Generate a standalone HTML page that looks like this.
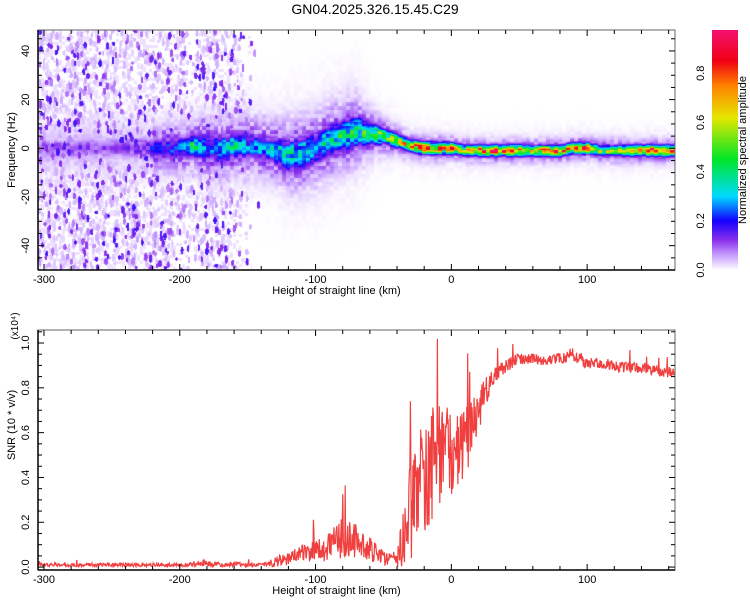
<!DOCTYPE html>
<html><head><meta charset="utf-8"><style>
body{margin:0;background:#fff;width:750px;height:600px;overflow:hidden;font-family:"Liberation Sans",sans-serif}
#wrap{position:relative;width:750px;height:600px}
canvas{position:absolute}
svg{position:absolute;left:0;top:0}
</style></head><body>
<div id="wrap">
<canvas id="hm" width="637" height="240" style="left:38px;top:30px"></canvas>
<canvas id="cb" width="26" height="240" style="left:712px;top:30px"></canvas>
<svg id="s" width="750" height="600"></svg>
</div>
<script>
// ---- data ----
const heights = [-300,-290,-280,-270,-260,-250,-240,-230,-220,-210,-200,-190,-180,-170,-160,-150,-140,-130,-120,-110,-100,-90,-80,-70,-60,-50,-40,-30,-20,-10,0,10,20,30,40,50,60,70,80,90,100,110,120,130,140,150,160,170];
const ridgeFreq = [0,0,0,0,0,0,0,0,0,0,0,1,0,0,1,1,0,-1,-3,-2,0,3,5,7,6,5,3,1,0,0,0,-1,-1,-1,-1,-1,-1,-1,-1,0,0,-1,-1,-1,-1,-1,-1,-1];
const ridgeAmp = [0.12,0.12,0.12,0.12,0.12,0.12,0.14,0.15,0.2,0.25,0.3,0.45,0.28,0.32,0.38,0.32,0.3,0.35,0.4,0.4,0.35,0.4,0.45,0.45,0.55,0.6,0.6,0.85,0.9,0.85,0.9,0.7,0.9,0.95,0.85,0.95,0.65,0.85,0.95,0.75,0.95,0.6,0.6,0.65,0.75,0.95,0.95,0.95];
const ridgeWidth = [4,4,4,4,4,4,4,4,4,4,4,4,5,5,5,5,5,5,6,6,6,6,6,6,4,3,2.5,2.2,2.2,2.2,2,2,2,2,2,2,2,2,2,2,2,2,2,2,2,2,2,2];
const speckle = [1,1,1,1,1,1,1,0.9,0.9,0.8,0.8,0.5,0.9,0.8,0.7,0.3,0,0,0,0,0,0,0,0,0,0,0,0,0,0,0,0,0,0,0,0,0,0,0,0,0,0,0,0,0,0,0,0];
const snrBase = [0.01,0.01,0.01,0.01,0.01,0.01,0.01,0.01,0.01,0.01,0.01,0.012,0.02,0.01,0.015,0.01,0.01,0.02,0.04,0.06,0.07,0.09,0.13,0.12,0.08,0.04,0.03,0.25,0.4,0.5,0.5,0.55,0.7,0.85,0.9,0.93,0.93,0.92,0.93,0.95,0.91,0.91,0.9,0.89,0.89,0.88,0.87,0.86];
const snrNoise = [0.01,0.01,0.01,0.01,0.01,0.01,0.01,0.01,0.01,0.01,0.01,0.015,0.02,0.01,0.015,0.01,0.01,0.03,0.04,0.05,0.06,0.08,0.12,0.1,0.07,0.04,0.05,0.3,0.35,0.3,0.25,0.2,0.12,0.06,0.04,0.03,0.03,0.03,0.03,0.04,0.03,0.03,0.03,0.03,0.03,0.03,0.03,0.03];
const xTicks = [-300,-200,-100,0,100];
const fTicks = [-40,-20,0,20,40];
const snrTicks = [0,0.2,0.4,0.6,0.8,1.0];
const cbTicks = [0,0.2,0.4,0.6,0.8];

// ---- scales ----
const X0=38,X1=675,XV0=-304.4,XV1=164.7;
const xs=v=>X0+(v-XV0)/(XV1-XV0)*(X1-X0);
const T0=30,T1=270,FV0=-50,FV1=48.6;
const ys=f=>T1-(f-FV0)/(FV1-FV0)*(T1-T0);
const B0=330,B1=570,SV0=-0.013,SV1=1.058;
const yb=v=>B1-(v-SV0)/(SV1-SV0)*(B1-B0);
const CB0=0,CB1=0.976;
function interp(arr,h){let i=(h-heights[0])/10;if(i<=0)return arr[0];if(i>=arr.length-1)return arr[arr.length-1];const k=Math.floor(i),t=i-k;return arr[k]*(1-t)+arr[k+1]*t;}
function hash(a,b){let n=(a*374761393+b*668265263)|0;n=(n^(n>>>13))*1274126177|0;n=n^(n>>>16);return ((n>>>0)%10000)/10000;}
const stops=[[0,[255,255,255]],[0.02,[236,222,255]],[0.06,[200,160,255]],[0.12,[140,50,235]],[0.2,[20,0,255]],[0.3,[0,220,255]],[0.45,[0,230,40]],[0.62,[230,230,0]],[0.75,[255,130,0]],[0.85,[240,0,20]],[1,[245,20,130]]];
function cmap(v){v=Math.max(0,Math.min(1,v));for(let i=1;i<stops.length;i++){if(v<=stops[i][0]){const a=stops[i-1],b=stops[i],t=(v-a[0])/(b[0]-a[0]);return [0,1,2].map(k=>Math.round(a[1][k]+(b[1][k]-a[1][k])*t));}}return stops[stops.length-1][1];}

// ---- heatmap ----
const W=637,H=240;
const buf=new Float32Array(W*H);
for(let px=0;px<W;px++){
  const h=XV0+(px+0.5)/W*(XV1-XV0);
  const fc=interp(ridgeFreq,h),am=interp(ridgeAmp,h),w=interp(ridgeWidth,h),sp=interp(speckle,h);
  const cx=Math.floor(px/4);
  for(let py=0;py<H;py++){
    const f=FV1-(py+0.5)/H*(FV1-FV0);
    const cy=Math.floor(py/4);
    const d=(f-fc)/w;
    let v=am*Math.exp(-d*d)*(0.55+0.6*hash(cx,cy));
    v=Math.max(v,Math.exp(-d*d/5)*(am>0.2?0.13:0.05)*(0.4+hash(cx+7,cy+3)));
    v=Math.max(v,Math.exp(-d*d/14)*0.035*hash(cx+2,Math.floor(py/6)+9));
    if(sp>0.2 && hash(Math.floor(px/3)+50,Math.floor(py/3))<0.4*sp) v=Math.max(v,0.018);
    buf[py*W+px]=v;
  }
}
// speckle blobs, randomly placed
for(let k=0;k<6000;k++){
  const bx=hash(k,1)*W, by=hash(k,2)*H;
  const h=XV0+bx/W*(XV1-XV0), sp=interp(speckle,h);
  if(hash(k,3)>sp) continue;
  const strong=hash(k,4)<0.3;
  const val=strong?0.06+0.11*hash(k,5):0.022+0.03*hash(k,6);
  const rx=1.1+hash(k,7)*1.0, ry=1.8+hash(k,8)*2.5;
  for(let x=Math.floor(bx-rx);x<=bx+rx;x++)for(let y=Math.floor(by-ry);y<=by+ry;y++){
    if(x<0||y<0||x>=W||y>=H)continue;
    const a=(x+0.5-bx)/rx,b=(y+0.5-by)/ry;
    if(a*a+b*b<=1){const i=y*W+x;if(buf[i]<val)buf[i]=val;}
  }
}
const hm=document.getElementById('hm'),ctx=hm.getContext('2d');
const img=ctx.createImageData(W,H);
for(let i=0;i<W*H;i++){const c=cmap(buf[i]);img.data[i*4]=c[0];img.data[i*4+1]=c[1];img.data[i*4+2]=c[2];img.data[i*4+3]=255;}
ctx.putImageData(img,0,0);
// colorbar
const cb=document.getElementById('cb'),c2=cb.getContext('2d');
for(let py=0;py<240;py++){const v=CB1-(py+0.5)/240*(CB1-CB0);const c=cmap(v);c2.fillStyle=`rgb(${c})`;c2.fillRect(0,py,26,1);}

// ---- svg ----
const S=document.getElementById('s'),NS='http://www.w3.org/2000/svg';
function el(t,a,txt){const e=document.createElementNS(NS,t);for(const k in a)e.setAttribute(k,a[k]);if(txt!==undefined)e.textContent=txt;S.appendChild(e);return e;}
function axes(top,bot,yfun,yt,ymin,ymax,minorStep,fmt,pre){
  let e=el('rect',{x:X0,y:top,width:X1-X0,height:bot-top,fill:'none',stroke:'#666','stroke-width':1});
  
  e=el('line',{x1:X0,y1:top,x2:X0,y2:bot,stroke:'#000','stroke-width':1.5});
  
  e=el('line',{x1:X0,y1:bot,x2:X1,y2:bot,stroke:'#000','stroke-width':1.5});
  
  for(let v=-300;v<=160;v+=20){const x=xs(v),L=(v%100===0)?6:4;
    el('line',{x1:x,y1:bot,x2:x,y2:bot-L,stroke:'#000'});el('line',{x1:x,y1:top,x2:x,y2:top+L,stroke:'#000'});}
  xTicks.forEach(v=>{const t=el('text',{x:xs(v),y:bot+13,'font-size':11,'text-anchor':'middle'},String(v));
    });
  for(let v=ymin;v<=ymax+1e-9;v+=minorStep){const y=yfun(v);const major=yt.some(t=>Math.abs(t-v)<1e-6);
    el('line',{x1:X0,y1:y,x2:X0+(major?6:4),y2:y,stroke:'#000'});el('line',{x1:X1,y1:y,x2:X1-(major?6:4),y2:y,stroke:'#000'});}
  yt.forEach(v=>{const y=yfun(v);const t=el('text',{x:0,y:0,'font-size':11,'text-anchor':'middle',transform:`translate(29,${y}) rotate(-90)`},fmt(v));
    });
  const t=el('text',{x:(X0+X1)/2-20,y:bot+24,'font-size':11,'text-anchor':'middle'},'Height of straight line (km)');
  
}
let t=el('text',{x:375,y:14,'font-size':14,'text-anchor':'middle'},'GN04.2025.326.15.45.C29');

axes(T0,T1,ys,fTicks,-50,45,5,v=>String(v),'spectrogram');
t=el('text',{x:0,y:0,'font-size':11,'text-anchor':'middle',transform:`translate(15,150) rotate(-90)`},'Frequency (Hz)');


// SNR line
const pts=[];
for(let i=0;i<=1300;i++){const h=XV0+i/1300*(XV1-XV0);const b=interp(snrBase,h),n=interp(snrNoise,h);
  const r=hash(i,77)-0.5, sp=hash(i,91);
  let v=b+n*r*1.6+(sp>0.985?n*2.2:0);v=Math.max(0.002,Math.min(1.055,v));pts.push([xs(h),yb(v)]);}
t=el('path',{d:'M'+pts.map(p=>p[0].toFixed(1)+','+p[1].toFixed(1)).join('L'),fill:'none',stroke:'#ee2a2a','stroke-width':1.2,'stroke-opacity':0.9});

axes(B0,B1,yb,snrTicks,0,1.05,0.05,v=>v.toFixed(1),'snr');
t=el('text',{x:0,y:0,'font-size':11,'text-anchor':'middle',transform:`translate(15,425) rotate(-90)`},'SNR (10 * v/v)');

t=el('text',{x:0,y:0,'font-size':10,'text-anchor':'middle',transform:`translate(18,326) rotate(-90)`},'(x10⁴)');

// colorbar labels
cbTicks.forEach(v=>{const y=270-(v-CB0)/(CB1-CB0)*240;const tt=el('text',{x:0,y:0,'font-size':11,'text-anchor':'middle',transform:`translate(704,${y}) rotate(-90)`},v.toFixed(1));
  });
t=el('text',{x:0,y:0,'font-size':11,'text-anchor':'middle',transform:`translate(746,150) rotate(-90)`},'Normalized spectral amplitude');

</script>
</body></html>
